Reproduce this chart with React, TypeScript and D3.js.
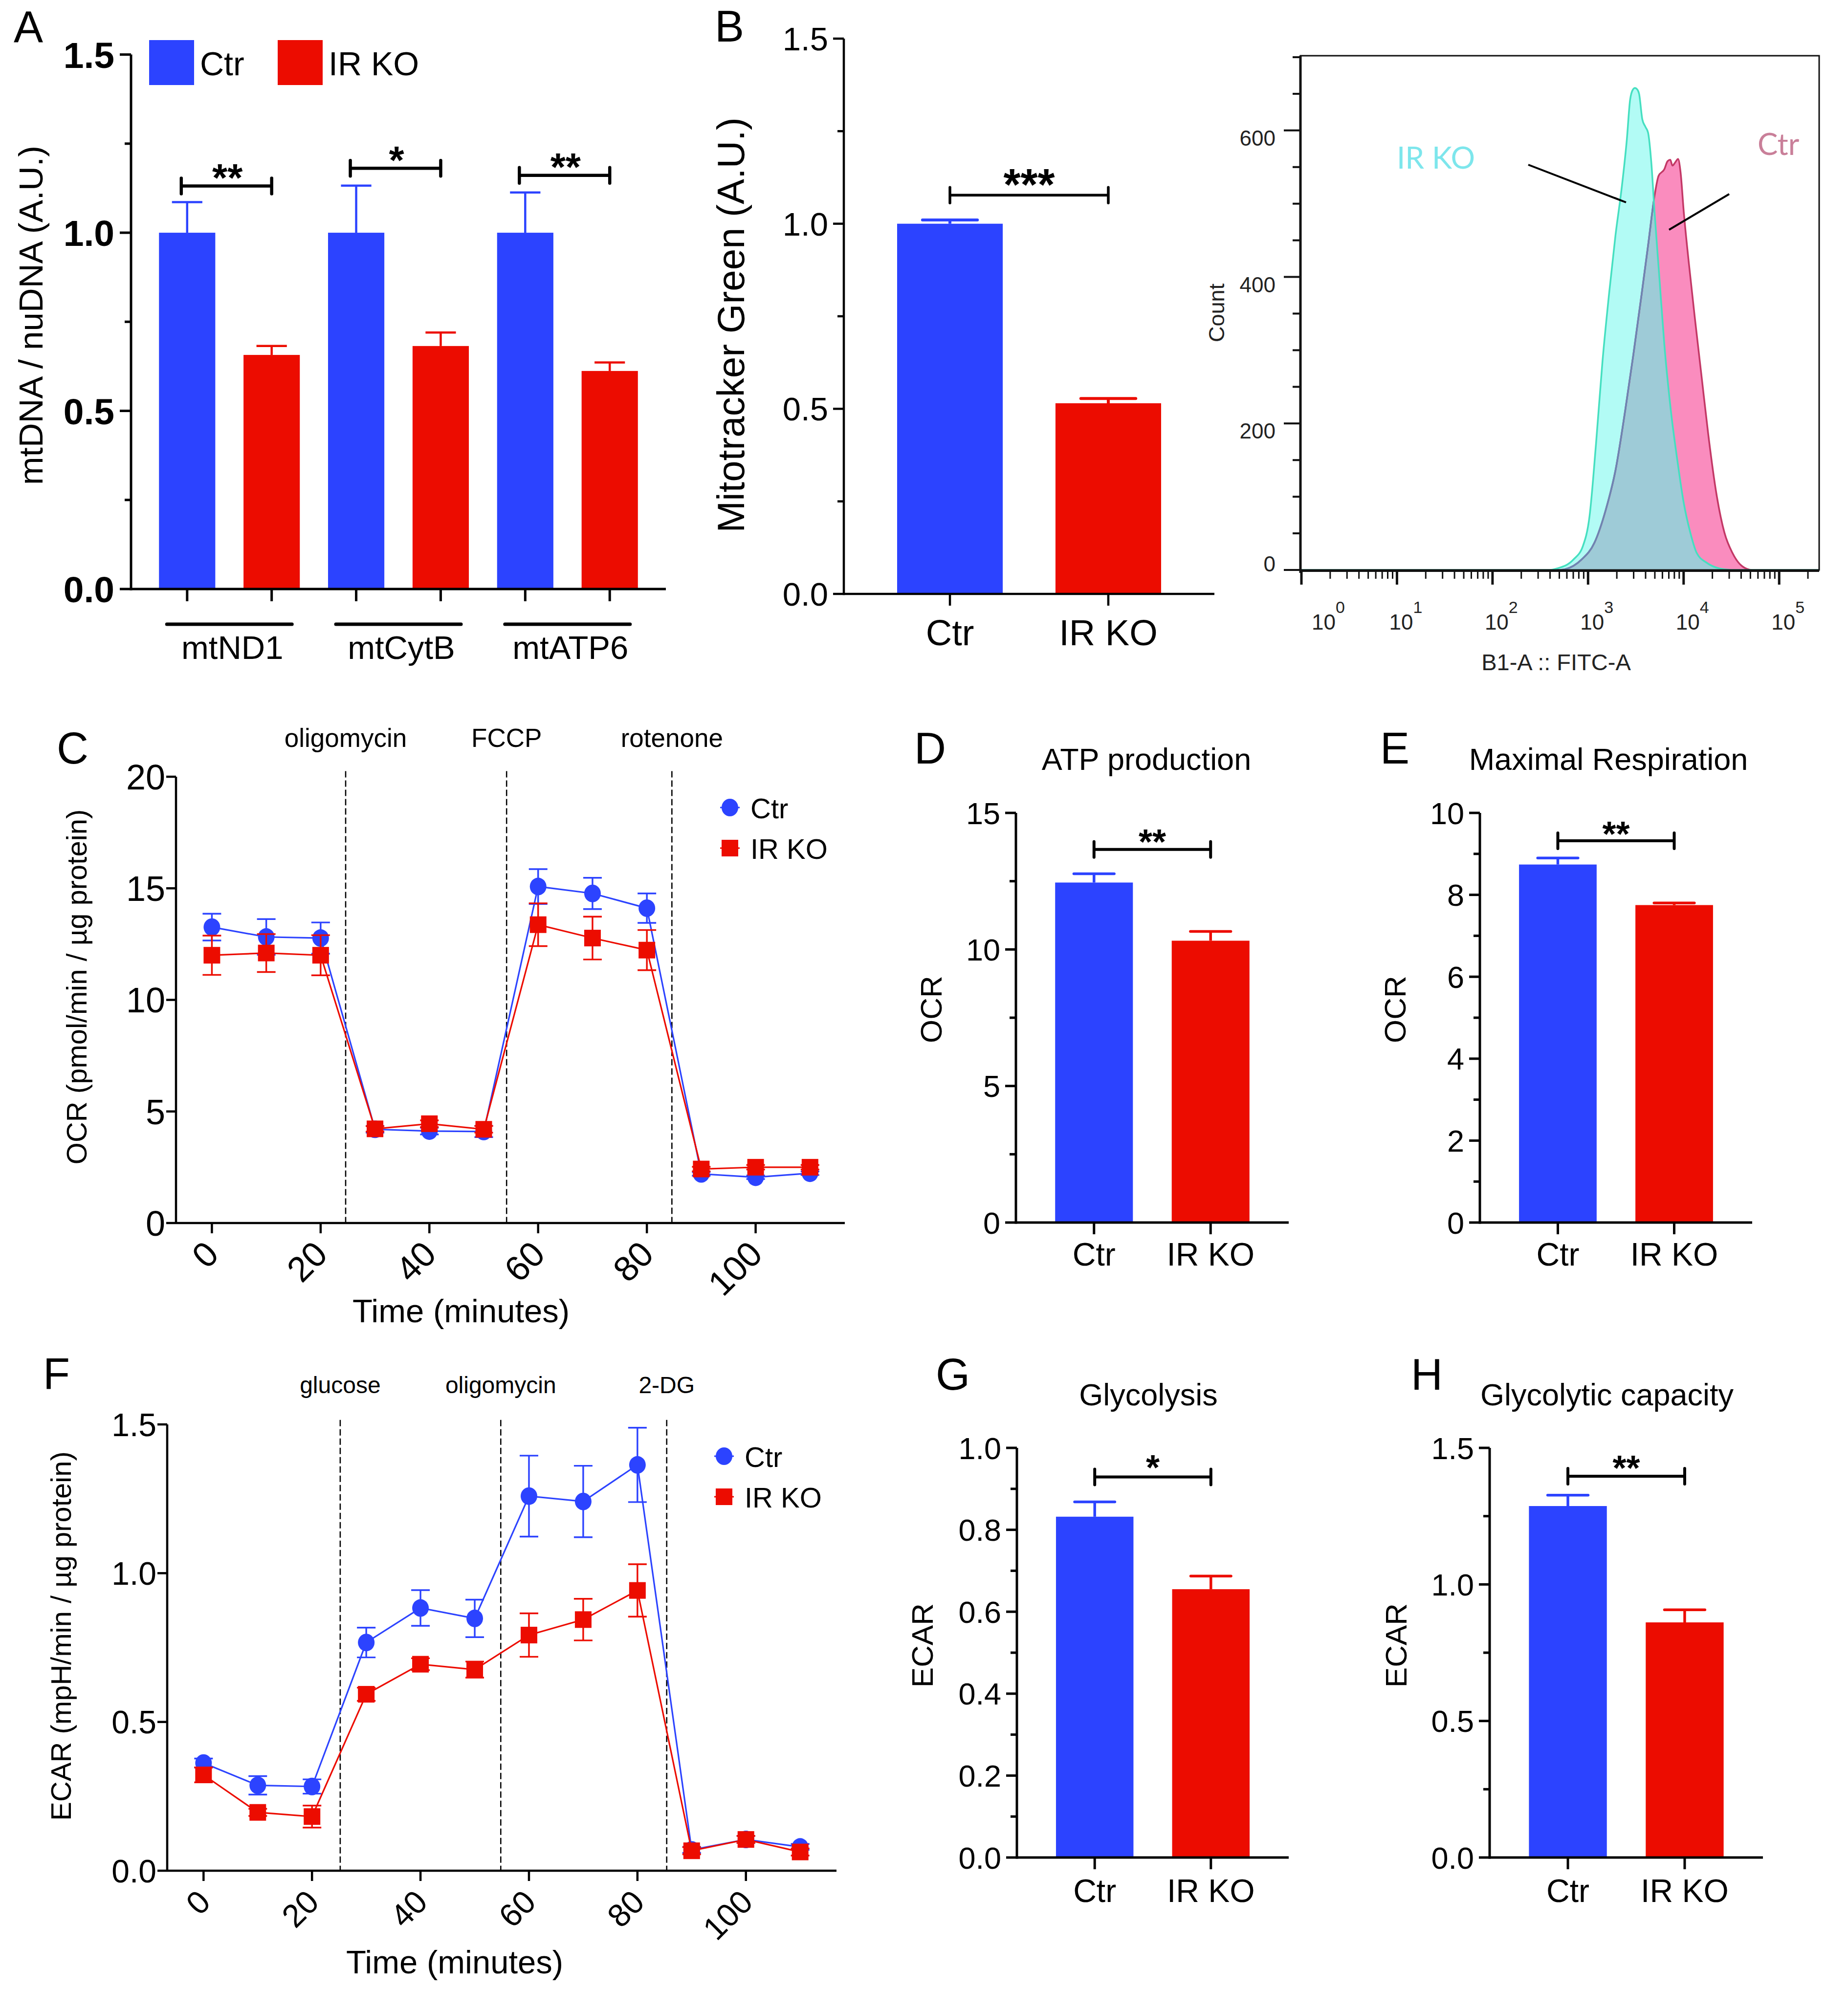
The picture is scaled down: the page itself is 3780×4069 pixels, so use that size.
import React from "react";
import * as d3 from "d3";

const BLUE = "#2c43ff";
const RED = "#ec0c00";
const FF = "'Liberation Sans', Arial, Helvetica, sans-serif";

// ---------------- Panel A : mtDNA / nuDNA ----------------
const geneGroups = ["mtND1", "mtCytB", "mtATP6"];
const seriesNames = ["Ctr", "IR KO"];
const mtCtrMean = [1.0, 1.0, 1.0];
const mtCtrSem = [0.086, 0.132, 0.113];
const mtKoMean = [0.657, 0.682, 0.612];
const mtKoSem = [0.025, 0.038, 0.024];
const mtSigText = ["**", "*", "**"];
const mtSigLevel = [1.131, 1.181, 1.161];
const ticks15Major = [0, 0.5, 1.0, 1.5];
const ticks15Minor = [0.25, 0.75, 1.25];

// ---------------- Panel B : Mitotracker ----------------
const mitoMean = [1.0, 0.515];
const mitoSem = [0.01, 0.013];
const mitoSig = "***";
const mitoSigLevel = 1.077;

// ---------------- Flow histogram ----------------
const irkoLogFitc = [0, 2.6, 2.675, 2.845, 2.947, 3.015, 3.083, 3.151, 3.219, 3.287, 3.355, 3.406, 3.44, 3.47, 3.49, 3.52, 3.534, 3.568, 3.6, 3.628, 3.662, 3.696, 3.747, 3.798, 3.866, 3.934, 4.002, 4.07, 4.138, 4.24, 4.376, 4.5, 5.4185];
const irkoCount = [0, 0, 2, 14, 33, 73, 172, 285, 376, 457, 525, 588, 642, 656, 658, 655, 650, 615, 605, 597, 556, 488, 398, 308, 218, 150, 91, 51, 23, 10, 2, 0, 0];
const ctrLogFitc = [0, 2.7, 2.76, 2.93, 3.066, 3.185, 3.287, 3.389, 3.474, 3.56, 3.628, 3.696, 3.738, 3.798, 3.832, 3.86, 3.883, 3.91, 3.942, 3.968, 4.002, 4.053, 4.121, 4.189, 4.257, 4.342, 4.427, 4.512, 4.614, 4.716, 5.4185];
const ctrCount = [0, 0, 1, 14, 37, 82, 136, 218, 294, 376, 443, 511, 538, 547, 558, 560, 552, 556, 561, 543, 488, 421, 340, 263, 186, 105, 51, 23, 5, 0, 0];
const flowCountTicks = [0, 200, 400, 600];
const flowDecades = [0, 1, 2, 3, 4, 5];

// ---------------- Panel C : OCR time course ----------------
const timePoints = [0, 10, 20, 30, 40, 50, 60, 70, 80, 90, 100, 110];
const ocrCtr = [13.26, 12.82, 12.77, 4.2, 4.12, 4.1, 15.08, 14.77, 14.11, 2.2, 2.05, 2.23];
const ocrCtrSem = [0.6, 0.8, 0.7, 0.15, 0.15, 0.25, 0.78, 0.7, 0.66, 0.08, 0.08, 0.08];
const ocrKo = [12.0, 12.1, 12.0, 4.22, 4.45, 4.2, 13.37, 12.77, 12.23, 2.42, 2.5, 2.5];
const ocrKoSem = [0.88, 0.85, 0.9, 0.12, 0.15, 0.15, 0.96, 0.96, 0.9, 0.1, 0.1, 0.1];
const ocrInjLabels = ["oligomycin", "FCCP", "rotenone"];
const ocrInjTimes = [24.6, 54.2, 84.6];
const ocrYTicks = [0, 5, 10, 15, 20];
const timeTicks = [0, 20, 40, 60, 80, 100];

// ---------------- Panel D, E : OCR bars ----------------
const atpMean = [12.45, 10.32];
const atpSem = [0.32, 0.34];
const maxRespMean = [8.74, 7.75];
const maxRespSem = [0.16, 0.05];

// ---------------- Panel F : ECAR time course ----------------
const ecarCtr = [0.362, 0.287, 0.283, 0.767, 0.883, 0.848, 1.259, 1.241, 1.364, 0.07, 0.105, 0.08];
const ecarCtrSem = [0.015, 0.031, 0.024, 0.05, 0.06, 0.063, 0.136, 0.12, 0.125, 0.01, 0.012, 0.01];
const ecarKo = [0.322, 0.196, 0.182, 0.593, 0.694, 0.676, 0.792, 0.844, 0.942, 0.067, 0.105, 0.063];
const ecarKoSem = [0.025, 0.012, 0.037, 0.022, 0.02, 0.027, 0.073, 0.07, 0.088, 0.012, 0.012, 0.012];
const ecarInjLabels = ["glucose", "oligomycin", "2-DG"];
const ecarInjTimes = [25.2, 54.8, 85.4];
const ecarYTicks = [0, 0.5, 1.0, 1.5];

// ---------------- Panel G, H : ECAR bars ----------------
const glycoMean = [0.832, 0.655];
const glycoSem = [0.036, 0.032];
const glycoCapMean = [1.287, 0.861];
const glycoCapSem = [0.04, 0.046];

const fmt1 = (v: number) => v.toFixed(1);
const fmt0 = (v: number) => String(v);

// ============ Generic two-bar panel ============
function BarPanel(p: any) {
  const y = d3.scaleLinear().domain([0, p.max]).range([p.yBottom, p.yTop]);
  const x = d3.scalePoint<string>().domain(seriesNames).range([p.x0, p.x1]).padding(0.67);
  const bw = x.step() * 0.667;
  const colors = [BLUE, RED];
  const cx = seriesNames.map((s) => x(s) as number);
  const sy = y(p.sigLevel);
  return (
    <g>
      {seriesNames.map((s, i) => {
        const top = y(p.means[i]);
        const et = y(p.means[i] + p.sems[i]);
        return (
          <g key={s}>
            <line x1={cx[i]} x2={cx[i]} y1={top} y2={et} stroke={colors[i]} strokeWidth={p.errW} />
            <line x1={cx[i] - bw * 0.26} x2={cx[i] + bw * 0.26} y1={et} y2={et} stroke={colors[i]} strokeWidth={p.errW} strokeLinecap="round" />
            <rect x={cx[i] - bw / 2} y={top} width={bw} height={y(0) - top} fill={colors[i]} />
            <line x1={cx[i]} x2={cx[i]} y1={y(0)} y2={y(0) + 24} stroke="#000" strokeWidth={p.axisW} />
            <text x={cx[i]} y={p.catBaseline} textAnchor="middle" fontSize={p.catSize}>{s}</text>
          </g>
        );
      })}
      <line x1={p.x0} x2={p.x0} y1={y(0) + p.axisW / 2} y2={y(p.max)} stroke="#000" strokeWidth={p.axisW} />
      <line x1={p.x0} x2={p.x1} y1={y(0)} y2={y(0)} stroke="#000" strokeWidth={p.axisW} />
      {p.major.map((t: number) => (
        <g key={"M" + t}>
          <line x1={p.x0 - 22} x2={p.x0} y1={y(t)} y2={y(t)} stroke="#000" strokeWidth={p.axisW} />
          <text x={p.x0 - 32} y={y(t)} dy="0.36em" textAnchor="end" fontSize={p.tickSize}>{p.fmt(t)}</text>
        </g>
      ))}
      {p.minor.map((t: number) => (
        <line key={"m" + t} x1={p.x0 - 13} x2={p.x0} y1={y(t)} y2={y(t)} stroke="#000" strokeWidth={p.axisW} />
      ))}
      <g stroke="#000" strokeWidth={p.axisW + 1}>
        <line x1={cx[0]} x2={cx[1]} y1={sy} y2={sy} />
        <line x1={cx[0]} x2={cx[0]} y1={sy - 16} y2={sy + 16} strokeLinecap="round" />
        <line x1={cx[1]} x2={cx[1]} y1={sy - 16} y2={sy + 16} strokeLinecap="round" />
      </g>
      <text x={(cx[0] + cx[1]) / 2} y={sy - p.sigGap + 0.58 * p.sigSize} textAnchor="middle" fontSize={p.sigSize} fontWeight="bold">{p.sig}</text>
      {p.title && <text x={p.titleX} y={p.titleY} textAnchor="middle" fontSize={63}>{p.title}</text>}
      <text transform={`translate(${p.ylabelX},${p.ylabelY}) rotate(-90)`} dy="0.36em" textAnchor="middle" fontSize={p.ylabelSize}>{p.ylabel}</text>
      <text x={p.letterX} y={p.letterY} fontSize={90}>{p.letter}</text>
    </g>
  );
}

// ============ Panel A ============
function PanelA() {
  const x0 = 268, x1 = 1362;
  const y = d3.scaleLinear().domain([0, 1.5]).range([1205, 111.6]);
  const g = d3.scalePoint<string>().domain(geneGroups).range([x0, x1]).padding(0.582);
  const step = g.step();
  const sub = d3.scalePoint<string>().domain(seriesNames).range([-step / 4, step / 4]);
  const bw = step * 0.333;
  const colors = [BLUE, RED];
  return (
    <g>
      {geneGroups.map((grp, gi) => {
        const means = [mtCtrMean[gi], mtKoMean[gi]];
        const sems = [mtCtrSem[gi], mtKoSem[gi]];
        const gc = g(grp) as number;
        const cxs = seriesNames.map((s) => gc + (sub(s) as number));
        const sy = y(mtSigLevel[gi]);
        return (
          <g key={grp}>
            {seriesNames.map((s, i) => {
              const top = y(means[i]);
              const et = y(means[i] + sems[i]);
              return (
                <g key={s}>
                  <line x1={cxs[i]} x2={cxs[i]} y1={top} y2={et} stroke={colors[i]} strokeWidth={4.5} />
                  <line x1={cxs[i] - bw * 0.27} x2={cxs[i] + bw * 0.27} y1={et} y2={et} stroke={colors[i]} strokeWidth={4.5} />
                  <rect x={cxs[i] - bw / 2} y={top} width={bw} height={y(0) - top} fill={colors[i]} />
                  <line x1={cxs[i]} x2={cxs[i]} y1={y(0)} y2={y(0) + 25} stroke="#000" strokeWidth={5} />
                </g>
              );
            })}
            <g stroke="#000" strokeWidth={6.5}>
              <line x1={cxs[0] - 12} x2={cxs[1]} y1={sy} y2={sy} />
              <line x1={cxs[0] - 12} x2={cxs[0] - 12} y1={sy - 16} y2={sy + 16} strokeLinecap="round" />
              <line x1={cxs[1]} x2={cxs[1]} y1={sy - 16} y2={sy + 16} strokeLinecap="round" />
            </g>
            <text x={(cxs[0] + cxs[1]) / 2 - 4} y={sy - 36 + 0.58 * 80} textAnchor="middle" fontSize={80} fontWeight="bold">{mtSigText[gi]}</text>
            <line x1={gc - 128} x2={gc + 128} y1={1277} y2={1277} stroke="#000" strokeWidth={7} strokeLinecap="round" />
            <text x={gc + 6} y={1348} textAnchor="middle" fontSize={67}>{grp}</text>
          </g>
        );
      })}
      <line x1={x0} x2={x0} y1={y(0) + 2.5} y2={y(1.5)} stroke="#000" strokeWidth={5} />
      <line x1={x0} x2={x1} y1={y(0)} y2={y(0)} stroke="#000" strokeWidth={5} />
      {ticks15Major.map((t) => (
        <g key={t}>
          <line x1={x0 - 23} x2={x0} y1={y(t)} y2={y(t)} stroke="#000" strokeWidth={5} />
          <text x={x0 - 34} y={y(t)} dy="0.36em" textAnchor="end" fontSize={75} fontWeight="bold">{fmt1(t)}</text>
        </g>
      ))}
      {ticks15Minor.map((t) => (
        <line key={t} x1={x0 - 13} x2={x0} y1={y(t)} y2={y(t)} stroke="#000" strokeWidth={5} />
      ))}
      {seriesNames.map((s, i) => (
        <g key={s}>
          <rect x={305 + i * 263} y={82} width={92} height={92} fill={colors[i]} />
          <text x={409 + i * 263} y={154} fontSize={68}>{s}</text>
        </g>
      ))}
      <text transform="translate(62,645) rotate(-90)" dy="0.36em" textAnchor="middle" fontSize={69}>mtDNA / nuDNA (A.U.)</text>
      <text x={28} y={86} fontSize={90}>A</text>
    </g>
  );
}

// ============ Flow histogram ============
function FlowPanel() {
  const L = 2660, R = 3721, T = 114, B = 1166;
  const fx = d3.scaleLog().domain([1, 262144]).range([2662, R]);
  const fy = d3.scaleLinear().domain([0, 702]).range([B, T]);
  const irko: [number, number][] = irkoLogFitc.map((v, i) => [v, irkoCount[i]]);
  const ctr: [number, number][] = ctrLogFitc.map((v, i) => [v, ctrCount[i]]);
  const area = d3.area<[number, number]>().x((d) => fx(Math.pow(10, d[0]))).y0(fy(0)).y1((d) => fy(d[1])).curve(d3.curveMonotoneX);
  const line = d3.line<[number, number]>().x((d) => fx(Math.pow(10, d[0]))).y((d) => fy(d[1])).curve(d3.curveMonotoneX);
  const minor: number[] = [];
  flowDecades.forEach((k) => {
    for (let m = 2; m <= 9; m++) {
      const v = m * Math.pow(10, k);
      if (v < 262144) minor.push(v);
    }
  });
  const yt = d3.range(0, 701, 50);
  return (
    <g>
      <defs>
        <clipPath id="irkoClip"><path d={area(irko) as string} /></clipPath>
      </defs>
      <path d={area(ctr) as string} fill="#fa8cbe" />
      <path d={area(irko) as string} fill="#b2fbf5" />
      <path d={area(ctr) as string} fill="#9ecbd7" clipPath="url(#irkoClip)" />
      <path d={line(ctr) as string} fill="none" stroke="#c33866" strokeWidth={3.5} />
      <path d={line(ctr) as string} fill="none" stroke="#6b86b4" strokeWidth={3.5} clipPath="url(#irkoClip)" />
      <path d={line(irko) as string} fill="none" stroke="#45dfc0" strokeWidth={3.5} />
      <rect x={L} y={T} width={R - L} height={B - T} fill="none" stroke="#111" strokeWidth={3} />
      <line x1={L} x2={L} y1={T} y2={B + 6} stroke="#111" strokeWidth={5} />
      <line x1={L} x2={R} y1={B + 2} y2={B + 2} stroke="#111" strokeWidth={4} />
      {yt.map((t) => (
        <line key={t} x1={L - (t % 200 === 0 ? 34 : 16)} x2={L} y1={fy(t)} y2={fy(t)} stroke="#111" strokeWidth={4} />
      ))}
      {flowCountTicks.map((t) => (
        <text key={t} x={2609} y={fy(t) + (t === 0 ? 3 : 31)} textAnchor="end" fontSize={44} fill="#222">{t}</text>
      ))}
      {flowDecades.map((k) => {
        const xv = fx(Math.pow(10, k));
        return (
          <g key={k}>
            <line x1={xv} x2={xv} y1={B} y2={B + 30} stroke="#111" strokeWidth={5} />
            <text x={k === 0 ? xv + 21 : xv - 16} y={1288} fontSize={44} fill="#222">
              10<tspan dy={-34} fontSize={34}>{k}</tspan>
            </text>
          </g>
        );
      })}
      {minor.map((v) => (
        <line key={v} x1={fx(v)} x2={fx(v)} y1={B} y2={B + 18} stroke="#111" strokeWidth={3} />
      ))}
      <text transform="translate(2488,640) rotate(-90)" dy="0.36em" textAnchor="middle" fontSize={45} fill="#222">Count</text>
      <text x={3183} y={1371} textAnchor="middle" fontSize={47} fill="#222">B1-A :: FITC-A</text>
      <text x={2857} y={345} fontSize={62} fill="#7de6ec" fontFamily="Lato, 'Open Sans', sans-serif">IR KO</text>
      <text x={3595} y={317} fontSize={62} fill="#c97f99" fontFamily="Lato, 'Open Sans', sans-serif">Ctr</text>
      <line x1={3126} y1={337} x2={3326} y2={414} stroke="#000" strokeWidth={4} />
      <line x1={3537} y1={397} x2={3414} y2={470} stroke="#000" strokeWidth={4} />
    </g>
  );
}

// ============ Time-course panel ============
function LinePanel(p: any) {
  const x = d3.scaleLinear().domain(p.tDomain).range([p.x0, p.x1]);
  const y = d3.scaleLinear().domain([0, p.yMax]).range([p.yBottom, p.yTop]);
  const line = d3.line<number>().x((_, i) => x(timePoints[i])).y((d) => y(d));
  const series = [
    { name: "Ctr", mean: p.ctr, sem: p.ctrSem, color: BLUE, shape: "circle" },
    { name: "IR KO", mean: p.ko, sem: p.koSem, color: RED, shape: "square" },
  ];
  const marker = (shape: string, cx: number, cy: number, color: string, key: any) =>
    shape === "circle" ? (
      <ellipse key={key} cx={cx} cy={cy} rx={17} ry={18} fill={color} />
    ) : (
      <rect key={key} x={cx - 17} y={cy - 17} width={34} height={34} fill={color} />
    );
  return (
    <g>
      {p.injTimes.map((t: number, i: number) => (
        <g key={t}>
          <line x1={x(t)} x2={x(t)} y1={y(p.injTop)} y2={p.yBottom} stroke="#000" strokeWidth={2.6} strokeDasharray="13,6" />
          <text x={x(t)} y={p.injBaseline} textAnchor="middle" fontSize={p.injSize}>{p.injLabels[i]}</text>
        </g>
      ))}
      {series.map((s) => (
        <g key={s.name}>
          <path d={line(s.mean) as string} fill="none" stroke={s.color} strokeWidth={3.2} />
          {s.mean.map((m: number, i: number) => {
            const cx = x(timePoints[i]);
            const yu = y(m + s.sem[i]);
            const yl = y(m - s.sem[i]);
            return (
              <g key={i} stroke={s.color} strokeWidth={3.4}>
                <line x1={cx} x2={cx} y1={yu} y2={yl} />
                <line x1={cx - 19} x2={cx + 19} y1={yu} y2={yu} />
                <line x1={cx - 19} x2={cx + 19} y1={yl} y2={yl} />
              </g>
            );
          })}
          {s.mean.map((m: number, i: number) => marker(s.shape, x(timePoints[i]), y(m), s.color, "mk" + i))}
        </g>
      ))}
      <line x1={p.x0} x2={p.x0} y1={p.yBottom + 2} y2={y(p.yMax)} stroke="#000" strokeWidth={4.5} />
      <line x1={p.x0} x2={p.x1} y1={p.yBottom} y2={p.yBottom} stroke="#000" strokeWidth={4.5} />
      {p.yTicks.map((t: number) => (
        <g key={t}>
          <line x1={p.x0 - 20} x2={p.x0} y1={y(t)} y2={y(t)} stroke="#000" strokeWidth={4.5} />
          <text x={p.x0 - 22} y={y(t)} dy="0.36em" textAnchor="end" fontSize={p.tickSize}>{p.yFmt(t)}</text>
        </g>
      ))}
      {timeTicks.map((t) => (
        <g key={t}>
          <line x1={x(t)} x2={x(t)} y1={p.yBottom} y2={p.yBottom + 21} stroke="#000" strokeWidth={4.5} />
          <text transform={`translate(${x(t) + 18},${p.yBottom + 68}) rotate(-45)`} textAnchor="end" fontSize={p.tickSize}>{t}</text>
        </g>
      ))}
      {series.map((s, i) => (
        <g key={s.name}>
          <line x1={p.legX - 20} x2={p.legX + 20} y1={p.legY + i * 83} y2={p.legY + i * 83} stroke={s.color} strokeWidth={3} />
          {marker(s.shape, p.legX, p.legY + i * 83, s.color, "lg")}
          <text x={p.legX + 42} y={p.legY + i * 83 + 22} fontSize={58}>{s.name}</text>
        </g>
      ))}
      <text x={p.xLabelX} y={p.xLabelY} textAnchor="middle" fontSize={67}>Time (minutes)</text>
      <text transform={`translate(${p.ylabelX},${p.ylabelY}) rotate(-90)`} dy="0.36em" textAnchor="middle" fontSize={58}>{p.ylabel}</text>
      <text x={p.letterX} y={p.letterY} fontSize={90}>{p.letter}</text>
    </g>
  );
}

export default function App() {
  return (
    <svg width={3780} height={4069} viewBox="0 0 3780 4069" style={{ position: "absolute", left: 0, top: 0, display: "block", background: "#fff" }} fontFamily={FF}>
      <rect x={0} y={0} width={3780} height={4069} fill="#fff" />
      <PanelA />
      <BarPanel x0={1726} x1={2484} yBottom={1215} yTop={79} max={1.5} means={mitoMean} sems={mitoSem}
        major={ticks15Major} minor={ticks15Minor} fmt={fmt1} sig={mitoSig} sigLevel={mitoSigLevel} sigSize={90} sigGap={43}
        tickSize={67} catSize={74} catBaseline={1320} ylabel="Mitotracker Green (A.U.)" ylabelX={1494} ylabelY={665} ylabelSize={78}
        letter="B" letterX={1462} letterY={85} axisW={4.5} errW={6} />
      <FlowPanel />
      <LinePanel tDomain={[-6.6, 116.4]} x0={360} x1={1728} yBottom={2502} yTop={1589} yMax={20}
        ctr={ocrCtr} ctrSem={ocrCtrSem} ko={ocrKo} koSem={ocrKoSem} injTimes={ocrInjTimes} injLabels={ocrInjLabels}
        injTop={20.25} injBaseline={1528} injSize={53} yTicks={ocrYTicks} yFmt={fmt0} tickSize={72}
        legX={1493} legY={1652} xLabelX={943} xLabelY={2705} ylabel="OCR (pmol/min / µg protein)" ylabelX={156} ylabelY={2019}
        letter="C" letterX={116} letterY={1562} />
      <BarPanel x0={2078} x1={2636} yBottom={2501} yTop={1663} max={15} means={atpMean} sems={atpSem}
        major={[0, 5, 10, 15]} minor={[2.5, 7.5, 12.5]} fmt={fmt0} sig="**" sigLevel={13.66} sigSize={72} sigGap={33}
        tickSize={63} catSize={66} catBaseline={2589} ylabel="OCR" ylabelX={1904} ylabelY={2065} ylabelSize={62}
        title="ATP production" titleX={2345} titleY={1575} letter="D" letterX={1870} letterY={1562} axisW={5} errW={5.5} />
      <BarPanel x0={3027} x1={3584} yBottom={2501} yTop={1663} max={10} means={maxRespMean} sems={maxRespSem}
        major={[0, 2, 4, 6, 8, 10]} minor={[1, 3, 5, 7, 9]} fmt={fmt0} sig="**" sigLevel={9.32} sigSize={72} sigGap={31}
        tickSize={63} catSize={66} catBaseline={2589} ylabel="OCR" ylabelX={2853} ylabelY={2065} ylabelSize={62}
        title="Maximal Respiration" titleX={3290} titleY={1575} letter="E" letterX={2823} letterY={1562} axisW={5} errW={5.5} />
      <LinePanel tDomain={[-6.7, 116.7]} x0={342} x1={1711} yBottom={3827} yTop={2914} yMax={1.5}
        ctr={ecarCtr} ctrSem={ecarCtrSem} ko={ecarKo} koSem={ecarKoSem} injTimes={ecarInjTimes} injLabels={ecarInjLabels}
        injTop={1.515} injBaseline={2850} injSize={48} yTicks={ecarYTicks} yFmt={fmt1} tickSize={66}
        legX={1481} legY={2979} xLabelX={930} xLabelY={4037} ylabel="ECAR (mpH/min / µg protein)" ylabelX={124} ylabelY={3347}
        letter="F" letterX={88} letterY={2841} />
      <BarPanel x0={2080} x1={2636} yBottom={3800} yTop={2962} max={1.0} means={glycoMean} sems={glycoSem}
        major={[0, 0.2, 0.4, 0.6, 0.8, 1.0]} minor={[0.1, 0.3, 0.5, 0.7, 0.9]} fmt={fmt1} sig="*" sigLevel={0.929} sigSize={72} sigGap={36}
        tickSize={63} catSize={66} catBaseline={3891} ylabel="ECAR" ylabelX={1886} ylabelY={3366} ylabelSize={62}
        title="Glycolysis" titleX={2349} titleY={2875} letter="G" letterX={1914} letterY={2843} axisW={5} errW={5.5} />
      <BarPanel x0={3047} x1={3606} yBottom={3800} yTop={2962} max={1.5} means={glycoCapMean} sems={glycoCapSem}
        major={ticks15Major} minor={ticks15Minor} fmt={fmt1} sig="**" sigLevel={1.396} sigSize={72} sigGap={34}
        tickSize={63} catSize={66} catBaseline={3891} ylabel="ECAR" ylabelX={2855} ylabelY={3366} ylabelSize={62}
        title="Glycolytic capacity" titleX={3287} titleY={2875} letter="H" letterX={2886} letterY={2843} axisW={5} errW={5.5} />
    </svg>
  );
}
